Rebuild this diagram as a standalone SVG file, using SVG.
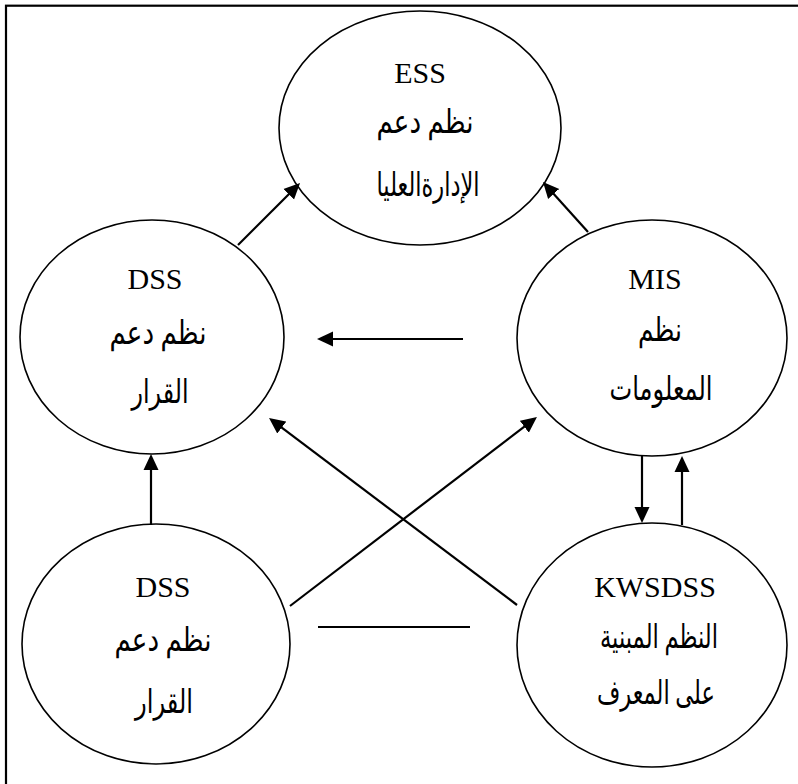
<svg xmlns="http://www.w3.org/2000/svg" width="798" height="784" viewBox="0 0 798 784">
<style>
.node ellipse{fill:#fff;stroke:#000;stroke-width:1.6}
.lat{font-family:"Liberation Serif","Times New Roman",serif;font-size:30px;fill:#000;text-anchor:middle}
.ar{font-family:"Liberation Serif","DejaVu Serif","DejaVu Sans",serif;font-size:33px;fill:#000;text-anchor:middle}
.conn path{fill:none;stroke:#000;stroke-width:2.2}
</style>
<defs>
<marker id="ah" viewBox="0 0 16 16" markerWidth="16" markerHeight="16" refX="10" refY="8" orient="auto" markerUnits="userSpaceOnUse">
<path d="M0,0.5 L16,8 L0,15.5 Z" fill="#000"/>
</marker>
</defs>
<rect x="0" y="0" width="798" height="784" fill="#fff"/>
<rect x="6" y="5.7" width="820" height="820" fill="none" stroke="#000" stroke-width="2.2"/>
<g id="ess" class="node">
<ellipse cx="420" cy="128" rx="141" ry="117"/>
<text class="lat" x="420" y="83">ESS</text>
<text class="ar" x="425" y="133" textLength="97" lengthAdjust="spacingAndGlyphs">نظم دعم</text>
<text class="ar" x="428" y="196" textLength="103" lengthAdjust="spacingAndGlyphs">الإدارةالعليا</text>
</g>
<g id="dss-top" class="node">
<ellipse cx="152" cy="337" rx="132" ry="117"/>
<text class="lat" x="155" y="289">DSS</text>
<text class="ar" x="158" y="344" textLength="97" lengthAdjust="spacingAndGlyphs">نظم دعم</text>
<text class="ar" x="160" y="403" textLength="57" lengthAdjust="spacingAndGlyphs">القرار</text>
</g>
<g id="mis" class="node">
<ellipse cx="652" cy="338" rx="135" ry="118"/>
<text class="lat" x="655" y="289">MIS</text>
<text class="ar" x="660" y="341" textLength="44" lengthAdjust="spacingAndGlyphs">نظم</text>
<text class="ar" x="661" y="400" textLength="103" lengthAdjust="spacingAndGlyphs">المعلومات</text>
</g>
<g id="dss-bottom" class="node">
<ellipse cx="156" cy="644" rx="134" ry="120"/>
<text class="lat" x="163" y="597">DSS</text>
<text class="ar" x="163" y="651" textLength="97" lengthAdjust="spacingAndGlyphs">نظم دعم</text>
<text class="ar" x="164" y="713" textLength="58" lengthAdjust="spacingAndGlyphs">القرار</text>
</g>
<g id="kwsdss" class="node">
<ellipse cx="652" cy="645" rx="135" ry="122"/>
<text class="lat" x="655" y="597">KWSDSS</text>
<text class="ar" x="659" y="648" textLength="118" lengthAdjust="spacingAndGlyphs">النظم المبنية</text>
<text class="ar" x="656" y="704" textLength="118" lengthAdjust="spacingAndGlyphs">على المعرف</text>
</g>
<g id="connectors" class="conn">
<path d="M238,245 L295.8,187.2" marker-end="url(#ah)"/>
<path d="M588,232 L547,186.5" marker-end="url(#ah)"/>
<path d="M463,339 L323,339" marker-end="url(#ah)"/>
<path d="M517,605 L273.8,421.6" marker-end="url(#ah)"/>
<path d="M290,606 L532.2,420.6" marker-end="url(#ah)"/>
<path d="M151,525 L151,460" marker-end="url(#ah)"/>
<path d="M642,456 L642,517" marker-end="url(#ah)"/>
<path d="M682,525 L682,462" marker-end="url(#ah)"/>
<path d="M318,627 L470,627"/>
</g>
</svg>
